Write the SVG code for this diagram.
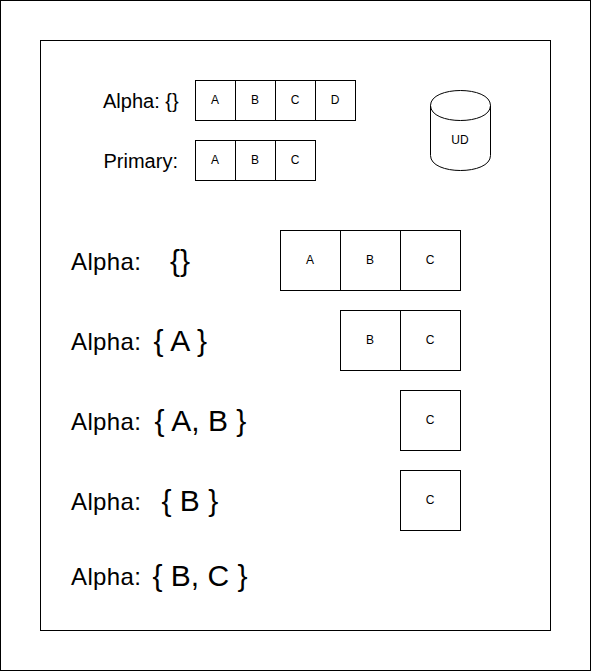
<svg xmlns="http://www.w3.org/2000/svg" width="592" height="671" viewBox="0 0 592 671">
<style>
.s{fill:#fff;stroke:#000;stroke-width:1}
.t{font-family:"Liberation Sans",Arial,sans-serif;fill:#000}
.c{font-size:12px;text-anchor:middle}
.m{font-size:20px}
.l{font-size:24px}
.h{font-size:30px}
</style>
<rect width="592" height="671" fill="#fff"/>
<g id="outer"><rect class="s" x="0.5" y="0.5" width="590" height="670"/></g>
<g id="frame"><rect class="s" x="40.5" y="40.5" width="510" height="590"/></g>
<g id="connectors"></g>
<g id="row-alpha-small">
<text class="t m" x="103" y="108">Alpha: {}</text>
<rect class="s" x="195.500" y="80.500" width="40" height="40"/><text class="t c" x="215" y="104">A</text>
<rect class="s" x="235.500" y="80.500" width="40" height="40"/><text class="t c" x="255" y="104">B</text>
<rect class="s" x="275.500" y="80.500" width="40" height="40"/><text class="t c" x="295" y="104">C</text>
<rect class="s" x="315.500" y="80.500" width="40" height="40"/><text class="t c" x="335" y="104">D</text>
</g>
<g id="row-primary">
<text class="t m" x="103.500" y="168">Primary:</text>
<rect class="s" x="195.500" y="140.500" width="40" height="40"/><text class="t c" x="215" y="164">A</text>
<rect class="s" x="235.500" y="140.500" width="40" height="40"/><text class="t c" x="255" y="164">B</text>
<rect class="s" x="275.500" y="140.500" width="40" height="40"/><text class="t c" x="295" y="164">C</text>
</g>
<g id="ud">
<path class="s" d="M430.500 105.500C430.500 85.500 490.500 85.500 490.500 105.500V155.500C490.500 175.500 430.500 175.500 430.500 155.500Z"/>
<path d="M430.500 105.500C430.500 125.500 490.500 125.500 490.500 105.500" fill="none" stroke="#000"/>
<text class="t c" x="460" y="144">UD</text>
</g>
<g id="row-1">
<text class="t l" x="71" y="270" textLength="70">Alpha:</text><text class="t h" x="170" y="271">{}</text>
<rect class="s" x="280.500" y="230.500" width="60" height="60"/><text class="t c" x="310" y="264">A</text>
<rect class="s" x="340.500" y="230.500" width="60" height="60"/><text class="t c" x="370" y="264">B</text>
<rect class="s" x="400.500" y="230.500" width="60" height="60"/><text class="t c" x="430" y="264">C</text>
</g>
<g id="row-2">
<text class="t l" x="71" y="350" textLength="70">Alpha:</text><text class="t h" x="153.500" y="351">{ A }</text>
<rect class="s" x="340.500" y="310.500" width="60" height="60"/><text class="t c" x="370" y="344">B</text>
<rect class="s" x="400.500" y="310.500" width="60" height="60"/><text class="t c" x="430" y="344">C</text>
</g>
<g id="row-3">
<text class="t l" x="71" y="430" textLength="70">Alpha:</text><text class="t h" x="154.500" y="431">{ A, B }</text>
<rect class="s" x="400.500" y="390.500" width="60" height="60"/><text class="t c" x="430" y="424">C</text>
</g>
<g id="row-4">
<text class="t l" x="71" y="510" textLength="70">Alpha:</text><text class="t h" x="161.500" y="511">{ B }</text>
<rect class="s" x="400.500" y="470.500" width="60" height="60"/><text class="t c" x="430" y="504">C</text>
</g>
<g id="row-5">
<text class="t l" x="71" y="585" textLength="70">Alpha:</text><text class="t h" x="152.500" y="586">{ B, C }</text>
</g>
</svg>
